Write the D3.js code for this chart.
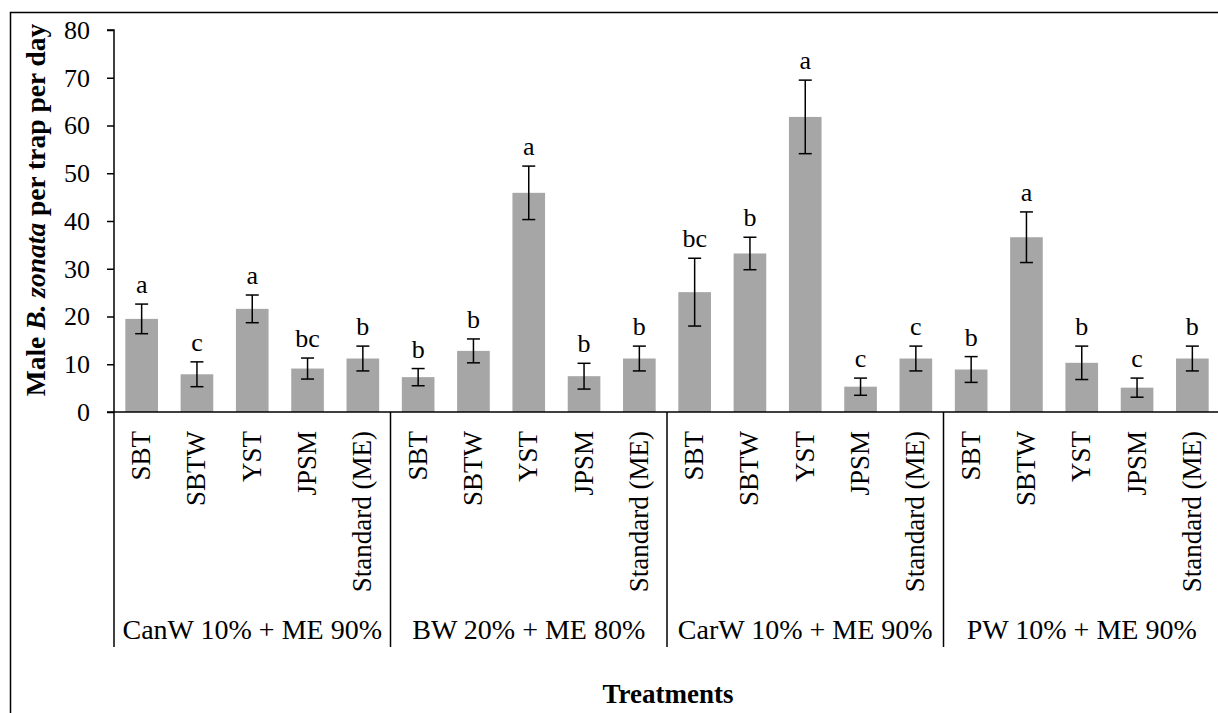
<!DOCTYPE html>
<html>
<head>
<meta charset="utf-8">
<script src="https://cdn.jsdelivr.net/npm/d3@7"></script>
<style>
  html, body { margin: 0; padding: 0; background: #fff; }
  svg { display: block; }
</style>
</head>
<body>
<svg id="chart" width="1218" height="713"></svg>
<script>
// ---- data ----
const groups = ["CanW 10% + ME 90%", "BW 20% + ME 80%", "CarW 10% + ME 90%", "PW 10% + ME 90%"];
const treatments = ["SBT", "SBTW", "YST", "JPSM", "Standard (ME)"];
const means = [
  19.5, 7.9, 21.6, 9.1, 11.2,
  7.3, 12.8, 45.9, 7.5, 11.2,
  25.1, 33.2, 61.8, 5.3, 11.2,
  8.9, 36.6, 10.3, 5.1, 11.2
];
const errors = [
  3.1, 2.6, 2.9, 2.2, 2.6,
  1.8, 2.5, 5.6, 2.7, 2.6,
  7.1, 3.4, 7.7, 1.8, 2.6,
  2.7, 5.3, 3.5, 2.0, 2.6
];
const letters = [
  "a", "c", "a", "bc", "b",
  "b", "b", "a", "b", "b",
  "bc", "b", "a", "c", "c",
  "b", "a", "b", "c", "b"
];
const yTicks = [0, 10, 20, 30, 40, 50, 60, 70, 80];

(function () {
const FONT = "Liberation Serif";
const svg = d3.select("#chart");
const pLeft = 114, pRight = 1220, pTop = 30, pBottom = 412;
const rows = [];
groups.forEach((g, gi) => treatments.forEach((t, ti) => {
  const i = gi * treatments.length + ti;
  rows.push({ key: gi + "-" + ti, group: g, treatment: t, mean: means[i], err: errors[i], letter: letters[i] });
}));

const x = d3.scaleBand().domain(rows.map(d => d.key)).range([pLeft, pRight]).paddingInner(0.41).paddingOuter(0.205);
const y = d3.scaleLinear().domain([0, 80]).range([pBottom, pTop]);
const step = x.step();

// outer border (left and top visible)
svg.append("path")
  .attr("d", `M10.5,713 L10.5,12.5 L1218,12.5`)
  .attr("fill", "none").attr("stroke", "#000").attr("stroke-width", 1.5);

// bars
svg.append("g").selectAll("rect").data(rows).join("rect")
  .attr("x", d => x(d.key)).attr("width", x.bandwidth())
  .attr("y", d => y(d.mean)).attr("height", d => y(0) - y(d.mean))
  .attr("fill", "#a6a6a6");

// error bars
const eb = svg.append("g").attr("stroke", "#000").attr("stroke-width", 1.5);
rows.forEach(d => {
  const cx = x(d.key) + x.bandwidth() / 2;
  eb.append("line").attr("x1", cx).attr("x2", cx).attr("y1", y(d.mean + d.err)).attr("y2", y(d.mean - d.err));
  eb.append("line").attr("x1", cx - 6.5).attr("x2", cx + 6.5).attr("y1", y(d.mean + d.err)).attr("y2", y(d.mean + d.err));
  eb.append("line").attr("x1", cx - 6.5).attr("x2", cx + 6.5).attr("y1", y(d.mean - d.err)).attr("y2", y(d.mean - d.err));
});

// letters
svg.append("g").selectAll("text").data(rows).join("text")
  .attr("x", d => x(d.key) + x.bandwidth() / 2)
  .attr("y", d => y(d.mean + d.err) - 11)
  .attr("text-anchor", "middle").attr("font-family", FONT).attr("font-size", 26)
  .text(d => d.letter);

// y axis
const yAxis = svg.append("g").attr("transform", `translate(${pLeft},0)`)
  .call(d3.axisLeft(y).tickValues(yTicks).tickSize(7).tickPadding(17).tickFormat(d3.format("d")));
yAxis.select(".domain").attr("stroke-width", 1.5).attr("d", `M-7,${pTop}H0V${pBottom}`);
yAxis.selectAll(".tick line").attr("stroke-width", 1.5);
yAxis.selectAll(".tick text").attr("font-family", FONT).attr("font-size", 26).attr("fill", "#000");

// x axis line
svg.append("line").attr("x1", pLeft - 7).attr("x2", 1218).attr("y1", pBottom).attr("y2", pBottom)
  .attr("stroke", "#000").attr("stroke-width", 1.5);

// group separators and group labels
const sepY2 = 647;
groups.forEach((g, gi) => {
  const sx = pLeft + gi * treatments.length * step;
  svg.append("line").attr("x1", sx).attr("x2", sx).attr("y1", pBottom).attr("y2", sepY2)
    .attr("stroke", "#000").attr("stroke-width", 1.5);
  svg.append("text")
    .attr("x", sx + treatments.length * step / 2)
    .attr("y", 639)
    .attr("text-anchor", "middle").attr("font-family", FONT).attr("font-size", 28)
    .text(g);
});

// category labels (rotated)
svg.append("g").selectAll("text").data(rows).join("text")
  .attr("transform", d => `translate(${x(d.key) + x.bandwidth() / 2 - 1},431) rotate(-90)`)
  .attr("text-anchor", "end").attr("dy", "0.35em").attr("font-family", FONT).attr("font-size", 27)
  .text(d => d.treatment);

// axis titles
svg.append("text").attr("x", 668).attr("y", 703).attr("text-anchor", "middle")
  .attr("font-family", FONT).attr("font-size", 27).attr("font-weight", "bold").text("Treatments");

const yt = svg.append("text").attr("transform", "translate(45,210) rotate(-90)")
  .attr("text-anchor", "middle").attr("font-family", FONT).attr("font-size", 27.5).attr("font-weight", "bold");
yt.append("tspan").text("Male ");
yt.append("tspan").attr("font-style", "italic").text("B. zonata");
yt.append("tspan").text(" per trap per day");
})();
</script>
</body>
</html>
